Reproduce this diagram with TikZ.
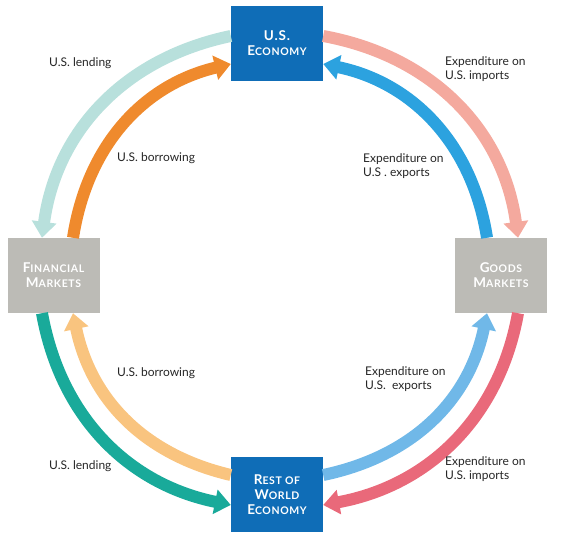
\documentclass[tikz,border=0pt]{standalone}
\usepackage{fontspec}
\setmainfont{Lato}
\usetikzlibrary{arrows.meta}
\definecolor{cbox}{HTML}{0F6DB7}
\definecolor{cgrey}{HTML}{BCBBB6}
\definecolor{cltteal}{HTML}{B8E0DC}
\definecolor{corange}{HTML}{EF8A2D}
\definecolor{csalmon}{HTML}{F4A99E}
\definecolor{cblue}{HTML}{2CA2DF}
\definecolor{cltblue}{HTML}{70B8E8}
\definecolor{cred}{HTML}{E9697A}
\definecolor{cteal}{HTML}{19AA9A}
\definecolor{cltorange}{HTML}{F9C47F}
\newcommand{\fakesc}[2]{#1{\fontsize{10.5}{15}\selectfont #2}}

\begin{document}
\begin{tikzpicture}[x=1pt,y=1pt,font=\fontsize{12}{14}\selectfont,>={Triangle[width=24pt 0,length=16pt 0]}]
  \tikzstyle{box}=[fill=cbox,text=white,align=center,minimum width=92pt,minimum height=75pt,inner sep=0pt,font=\fontsize{13.5}{15}\selectfont\bfseries\addfontfeatures{LetterSpace=6}]
  \tikzstyle{gbox}=[box,fill=cgrey]
  \tikzstyle{flow}=[line width=12pt]
  \tikzstyle{lbl}=[anchor=west,align=left,inner sep=0pt,text=black!85]
  \useasboundingbox (0,0) rectangle (564,543);

  % sectors
  \node[box] (us) at (277,499.5) {U.S.\\\fakesc{E}{CONOMY}};
  \node[gbox] (fin) at (53.5,267.5) {\fakesc{F}{INANCIAL}\\\fakesc{M}{ARKETS}};
  \node[gbox] (goods) at (501,267.5) {\fakesc{G}{OODS}\\\fakesc{M}{ARKETS}};
  \node[box] (row) at (277,48.5) {\fakesc{R}{EST OF}\\\fakesc{W}{ORLD}\\\fakesc{E}{CONOMY}};

  % financial flows
  \draw[flow,cltteal,->] ([yshift=7.5pt]us.west) to[out=191.8,in=82.3] ([xshift=-11.5pt]fin.north);
  \draw[flow,corange,->] ([xshift=19.5pt]fin.north) to[out=81.2,in=193.4] ([yshift=-20.5pt]us.west);
  \draw[flow,cteal,->] ([xshift=-11.5pt]fin.south) to[out=280.2,in=168.5] ([yshift=-10.5pt]row.west);
  \draw[flow,cltorange,->] ([yshift=19.5pt]row.west) to[out=166.8,in=281.7] ([xshift=19.5pt]fin.south);

  % goods flows
  \draw[flow,csalmon,->] ([yshift=7.5pt]us.east) to[out=349.6,in=97.7] ([xshift=17pt]goods.north);
  \draw[flow,cblue,->] ([xshift=-14pt]goods.north) to[out=98.8,in=348.2] ([yshift=-20.5pt]us.east);
  \draw[flow,cltblue,->] ([yshift=19.5pt]row.east) to[out=11.8,in=258.3] ([xshift=-14pt]goods.south);
  \draw[flow,cred,->] ([xshift=17pt]goods.south) to[out=259.8,in=10.4] ([yshift=-10.5pt]row.east);

  % labels
  \node[lbl] (lendtop) at (49,480) {U.S. lending};
  \node[lbl] (borrtop) at (117,385) {U.S. borrowing};
  \node[lbl] (imptop) at (445,473.5) {Expenditure on\\U.S. imports};
  \node[lbl] (exptop) at (363,376.5) {Expenditure on\\U.S . exports};
  \node[lbl] (borrbot) at (117,170) {U.S. borrowing};
  \node[lbl] (lendbot) at (49,77) {U.S. lending};
  \node[lbl] (expbot) at (365,163.5) {Expenditure on\\U.S.\ \ exports};
  \node[lbl] (impbot) at (445,73.5) {Expenditure on\\U.S. imports};
\end{tikzpicture}
\end{document}
